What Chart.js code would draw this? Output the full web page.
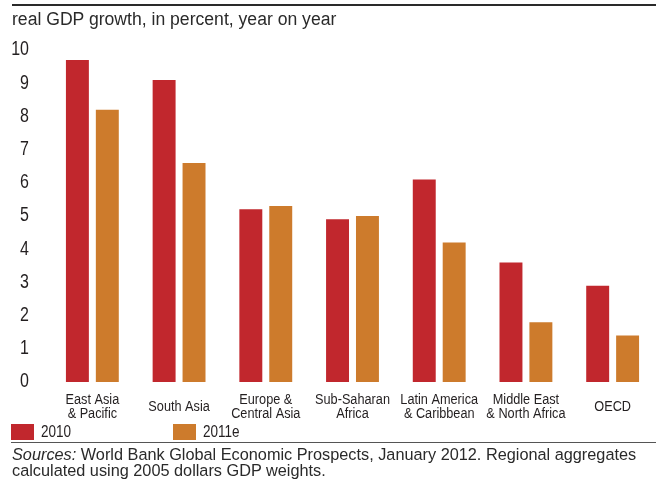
<!DOCTYPE html>
<html>
<head>
<meta charset="utf-8">
<script src="https://cdn.jsdelivr.net/npm/chart.js@4.4.1/dist/chart.umd.min.js"></script>
<style>
  html, body { margin: 0; padding: 0; background: #fff; }
  #wrap { position: relative; width: 656px; height: 482px; overflow: hidden; font-family: "Liberation Sans", Arial, sans-serif; color: #231f20; }
  #c { position: absolute; left: 0; top: 0; }
  .rule { position: absolute; left: 12px; right: 0; }
  #topRule { top: 4px; height: 1.5px; background: #2a2a2a; }
  #botRule { top: 441.5px; height: 1.2px; background: #555; left: 11px; }
  #title { position: absolute; left: 12px; top: 8px; font-size: 17.6px; line-height: 22px; white-space: nowrap; color: #2a2a2a; }
  #source { position: absolute; left: 12px; top: 447px; font-size: 16.3px; line-height: 15.5px; white-space: nowrap; color: #2a2a2a; }
</style>
</head>
<body>
<div id="wrap">
  <canvas id="c" width="656" height="482"></canvas>
  <div class="rule" id="topRule"></div>
  <div id="title">real GDP growth, in percent, year on year</div>
  <div class="rule" id="botRule"></div>
  <div id="source"><i>Sources:</i> World Bank Global Economic Prospects, January 2012. Regional aggregates<br>calculated using 2005 dollars GDP weights.</div>
</div>
<script>
// Regions (multi-line axis labels) and growth rates
const regions = [
  ["East Asia", "& Pacific"],
  ["South Asia"],
  ["Europe &", "Central Asia"],
  ["Sub-Saharan", "Africa"],
  ["Latin America", "& Caribbean"],
  ["Middle East", "& North Africa"],
  ["OECD"]
];
const growth2010 = [9.7, 9.1, 5.2, 4.9, 6.1, 3.6, 2.9];
const growth2011e = [8.2, 6.6, 5.3, 5.0, 4.2, 1.8, 1.4];
const yTicks = [0, 1, 2, 3, 4, 5, 6, 7, 8, 9, 10];
const seriesNames = ["2010", "2011e"];
const seriesColors = ["#c1272d", "#cd7b2c"];

const FONT = '"Liberation Sans", Arial, sans-serif';
const SQUEEZE = 0.82; // horizontal compression for condensed-style labels

function squeezedText(ctx, text, x, y, size, align) {
  ctx.save();
  ctx.font = size + 'px ' + FONT;
  ctx.textBaseline = 'middle';
  ctx.textAlign = align;
  ctx.translate(x, y);
  ctx.scale(SQUEEZE, 1);
  ctx.fillText(text, 0, 0);
  ctx.restore();
}

// Draws tick labels, category labels and legend using the chart's scales
const labelPlugin = {
  id: 'labels',
  afterDraw(chart) {
    const ctx = chart.ctx;
    const ys = chart.scales.y;
    const xs = chart.scales.x;
    ctx.fillStyle = '#231f20';
    yTicks.forEach(v => {
      squeezedText(ctx, String(v), 29, ys.getPixelForValue(v), 19.5, 'right');
    });
    const mid = 406.6, lh = 14;
    regions.forEach((lines, i) => {
      const x = xs.getPixelForValue(i);
      const y0 = mid - (lines.length - 1) * lh / 2;
      lines.forEach((ln, k) => squeezedText(ctx, ln, x, y0 + k * lh, 15.5, 'center'));
    });
    // legend
    const items = [{ x: 11 }, { x: 173 }];
    chart.data.datasets.forEach((ds, i) => {
      ctx.fillStyle = ds.backgroundColor;
      ctx.fillRect(items[i].x, 424, 23, 16);
      ctx.fillStyle = '#231f20';
      squeezedText(ctx, ds.label, items[i].x + 30, 432.5, 16.5, 'left');
    });
  }
};

new Chart(document.getElementById('c'), {
  type: 'bar',
  data: {
    labels: regions,
    datasets: [
      { label: seriesNames[0], data: growth2010, backgroundColor: seriesColors[0] },
      { label: seriesNames[1], data: growth2011e, backgroundColor: seriesColors[1] }
    ]
  },
  options: {
    responsive: false,
    devicePixelRatio: 1,
    animation: false,
    layout: { padding: { left: 49, right: 0, top: 50, bottom: 100 } },
    datasets: { bar: { categoryPercentage: 0.69, barPercentage: 0.767, borderWidth: 0 } },
    scales: {
      x: { display: false },
      y: { display: false, min: 0, max: 10 }
    },
    plugins: { legend: { display: false }, tooltip: { enabled: false } }
  },
  plugins: [labelPlugin]
});
</script>
</body>
</html>
